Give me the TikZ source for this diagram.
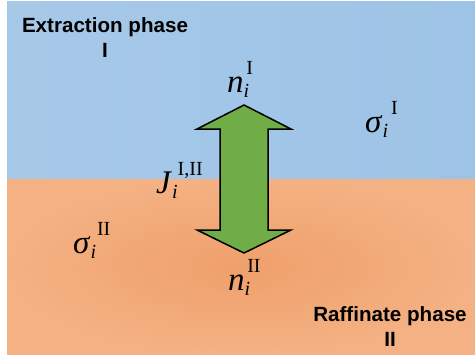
\documentclass[tikz,border=0pt]{standalone}
\usepackage{fontspec}
\setmainfont{Liberation Serif}
\newfontfamily\phasefont{Liberation Sans}
\usetikzlibrary{positioning}
\definecolor{phaseblue}{HTML}{9DC3E6}
\definecolor{phaseorange}{HTML}{F4B183}
\definecolor{phaseorangedeep}{HTML}{EFA06B}
\definecolor{fluxgreen}{HTML}{70AD47}
% base letter, subscript, superscript (optional kern before the superscript)
\newcommand{\phasevar}[4][0pt]{\textit{#2}\raisebox{-0.18em}{\fontsize{20}{20}\selectfont\textit{#3}}\kern#1\raisebox{0.52em}{\fontsize{20}{20}\selectfont #4}}

\begin{document}
\begin{tikzpicture}[x=1pt,y=-1pt,
  phase/.style={font=\phasefont\bfseries\fontsize{20.6}{25}\selectfont,align=center,inner sep=0pt},
  quantity/.style={font=\fontsize{33}{33}\selectfont,inner sep=0pt,anchor=base west}]
\useasboundingbox (0,0) rectangle (475,357);
% the two liquid phases
\shade[left color=phaseblue!90!white,right color=phaseblue] (7,1) rectangle (475,179);
\shade[inner color=phaseorangedeep,outer color=phaseorange] (7,179) rectangle (475,354);
% interphase flux arrow
\coordinate (toptip) at (244,105);
\coordinate (bottip) at (244,253);
\draw[fill=fluxgreen,line width=1.5pt,line join=miter]
  (toptip) -- (291,129) -- (268,129) -- (268,230) -- (291,230) -- (bottip)
  -- (197,230) -- (220,230) -- (220,129) -- (197,129) -- cycle;
% labels
\node[phase,anchor=north] (extract) at (105,17) {Extraction phase\\I};
\node[phase,anchor=north] (raffinate) at (390,306) {Raffinate phase\\II};
\node[quantity] (nI) at (227,92) {\phasevar[-3pt]{n}{i}{I}};
\node[quantity] (nII) at (228,290) {\phasevar[-3pt]{n}{i}{II}};
\node[quantity] (sigI) at (365,132) {\phasevar[3pt]{σ}{i}{I}};
\node[quantity] (sigII) at (73,253) {\phasevar[1pt]{σ}{i}{II}};
\node[quantity] (flux) at (156,193) {\phasevar{J}{i}{I,II}};
\end{tikzpicture}
\end{document}
